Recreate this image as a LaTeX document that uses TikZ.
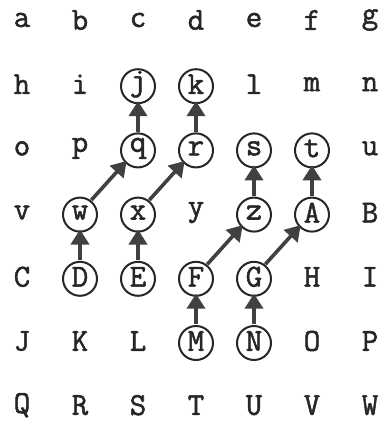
\documentclass[tikz,border=0pt]{standalone}
\usepackage{fontspec}
\usepackage{tikz}
\usetikzlibrary{arrows.meta}
\newfontfamily\typew[FakeBold=1.6]{Latin Modern Mono}

\tikzset{
  letter/.style={circle,minimum size=33pt*0.5,inner sep=0pt,text=black!85,
    font=\typew\fontsize{16}{16}\selectfont},
  ring/.style={draw=black!85,line width=1pt},
  link/.style={-{Triangle[length=7.5pt,width=9pt]},line width=1.8pt,draw=black!75}
}

\begin{document}
\begin{tikzpicture}[x=0.5pt,y=-0.5pt]
\useasboundingbox (0,0) rectangle (384,429);
% grid of letters, row by row
\foreach \l [count=\i from 0] in {a,b,c,d,e,f,g,h,i,j,k,l,m,n,o,p,q,r,s,t,u,v,w,x,y,z,A,B,C,D,E,F,G,H,I,J,K,L,M,N,O,P,Q,R,S,T,U,V,W}{
  \pgfmathtruncatemacro\col{mod(\i,7)}
  \pgfmathtruncatemacro\row{int(\i/7)}
  \node[letter] (\l) at (22+58*\col,20+64.2*\row) {\l};
}
% circled letters
\foreach \l in {j,k,q,r,s,t,w,x,z,A,D,E,F,G,M,N}
  \draw[ring] ([yshift=-1pt]\l.center) circle[radius=17];
% arrows
\draw[link] (q) -- (j);
\draw[link] (r) -- (k);
\draw[link] (w) -- (q);
\draw[link] (x) -- (r);
\draw[link] (D) -- (w);
\draw[link] (E) -- (x);
\draw[link] (z) -- (s);
\draw[link] (A) -- (t);
\draw[link] (F) -- (z);
\draw[link] (G) -- (A);
\draw[link] (M) -- (F);
\draw[link] (N) -- (G);
\end{tikzpicture}
\end{document}
